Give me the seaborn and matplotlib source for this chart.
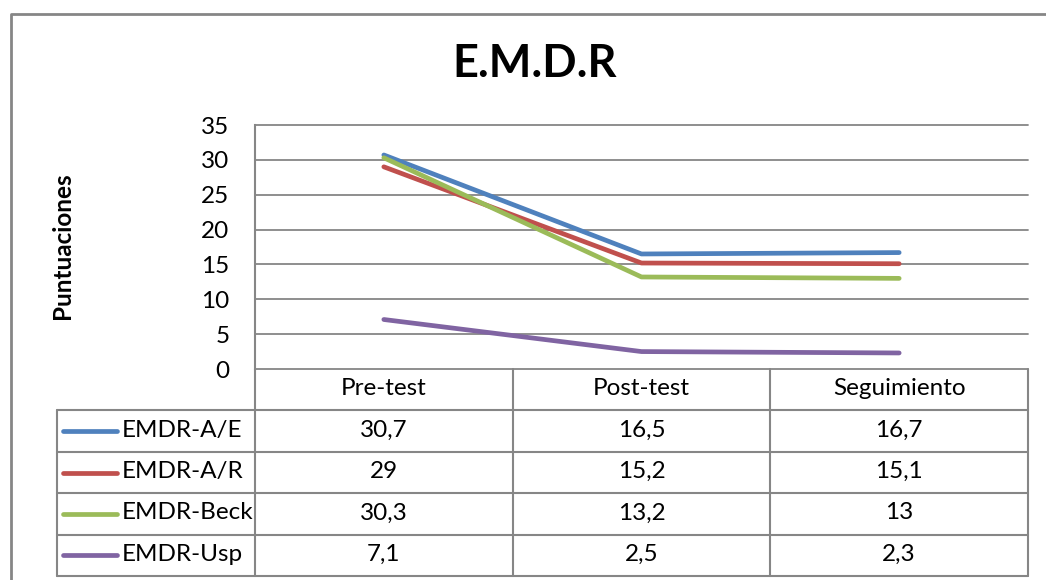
import matplotlib
matplotlib.use("Agg")
import matplotlib.pyplot as plt
import seaborn as sns
import pandas as pd

# datos del gráfico
momentos = ['Pre-test', 'Post-test', 'Seguimiento']
series = ['EMDR-A/E', 'EMDR-A/R', 'EMDR-Beck', 'EMDR-Usp']
emdr_ae = [30.7, 16.5, 16.7]
emdr_ar = [29, 15.2, 15.1]
emdr_beck = [30.3, 13.2, 13]
emdr_usp = [7.1, 2.5, 2.3]
colores = ['#4F81BD', '#C0504D', '#9BBB59', '#8064A2']
y_ticks = [0, 5, 10, 15, 20, 25, 30, 35]

valores = [emdr_ae, emdr_ar, emdr_beck, emdr_usp]
df = pd.DataFrame({
    'Momento': momentos * len(series),
    'Puntuación': [v for fila in valores for v in fila],
    'Serie': [s for s in series for _ in momentos],
})

sns.set_theme(style='white')
plt.rcParams['font.family'] = ['Lato', 'DejaVu Sans']

W, H = 1046, 580
GRIS = '#868686'
FS = 17.5
fig = plt.figure(figsize=(W / 100, H / 100), dpi=100)


def rect(x0, y0, x1, y1):
    return [x0 / W, 1 - y1 / H, (x1 - x0) / W, (y1 - y0) / H]


# capa de fondo en pixeles (borde, título, tabla)
bg = fig.add_axes([0, 0, 1, 1])
bg.set_xlim(0, W)
bg.set_ylim(H, 0)
bg.axis('off')
bg.plot([11, 11, W + 5], [H + 5, 14, 14], color=GRIS, lw=2)

bg.text(535, 64, 'E.M.D.R', ha='center', va='center', fontsize=32.5,
        fontweight='bold', color='black')
bg.text(62, 246, 'Puntuaciones', rotation=90, ha='center', va='center',
        fontsize=FS, fontweight='bold', color='black')

# área del gráfico
x0, x1, y0, y1 = 255, 1028, 125, 369
ax = fig.add_axes(rect(x0, y0, x1, y1))
ax.set_zorder(2)
ax.patch.set_alpha(0)
sns.lineplot(data=df, x='Momento', y='Puntuación', hue='Serie',
             hue_order=series, palette=dict(zip(series, colores)),
             lw=3.4, legend=False, sort=False, ax=ax, solid_capstyle='round')
ax.set_xlim(-0.5, len(momentos) - 0.5)
ax.set_ylim(0, 35)
ax.set_yticks(y_ticks)
ax.set_xticks([])
ax.set_xlabel('')
ax.set_ylabel('')
ax.yaxis.grid(True, color=GRIS, lw=1.3)
for ln in ax.get_ygridlines():
    ln.set_clip_on(False)
ax.set_axisbelow(True)
for s in ['top', 'right', 'bottom']:
    ax.spines[s].set_visible(False)
ax.spines['left'].set_color(GRIS)
ax.spines['left'].set_linewidth(1.5)
ax.tick_params(axis='y', length=0, pad=18.5, labelsize=FS, labelcolor='black')

# tabla de datos
ancho = (x1 - x0) / len(momentos)
xs = [x0 + i * ancho for i in range(len(momentos) + 1)]
alto = 41.4
ys = [y1 + i * alto for i in range(len(series) + 2)]
xl = 57
for y in ys[1:]:
    bg.plot([xl, x1], [y, y], color=GRIS, lw=1.5)
bg.plot([xl, xl], [ys[1], ys[-1]], color=GRIS, lw=1.5)
for x in xs:
    bg.plot([x, x], [ys[0], ys[-1]], color=GRIS, lw=1.5)

for i, m in enumerate(momentos):
    bg.text((xs[i] + xs[i + 1]) / 2, (ys[0] + ys[1]) / 2 - 1, m,
            ha='center', va='center', fontsize=FS, color='black')

for j, (nombre, color, fila) in enumerate(zip(series, colores, valores)):
    yc = (ys[j + 1] + ys[j + 2]) / 2
    bg.plot([63, 117], [yc, yc], color=color, lw=3.4, solid_capstyle='round')
    bg.text(122, yc - 1, nombre, ha='left', va='center', fontsize=FS, color='black')
    for i, v in enumerate(fila):
        bg.text((xs[i] + xs[i + 1]) / 2, yc - 1, f'{v:g}'.replace('.', ','),
                ha='center', va='center', fontsize=FS, color='black')

fig.savefig('out.png', dpi=100)
